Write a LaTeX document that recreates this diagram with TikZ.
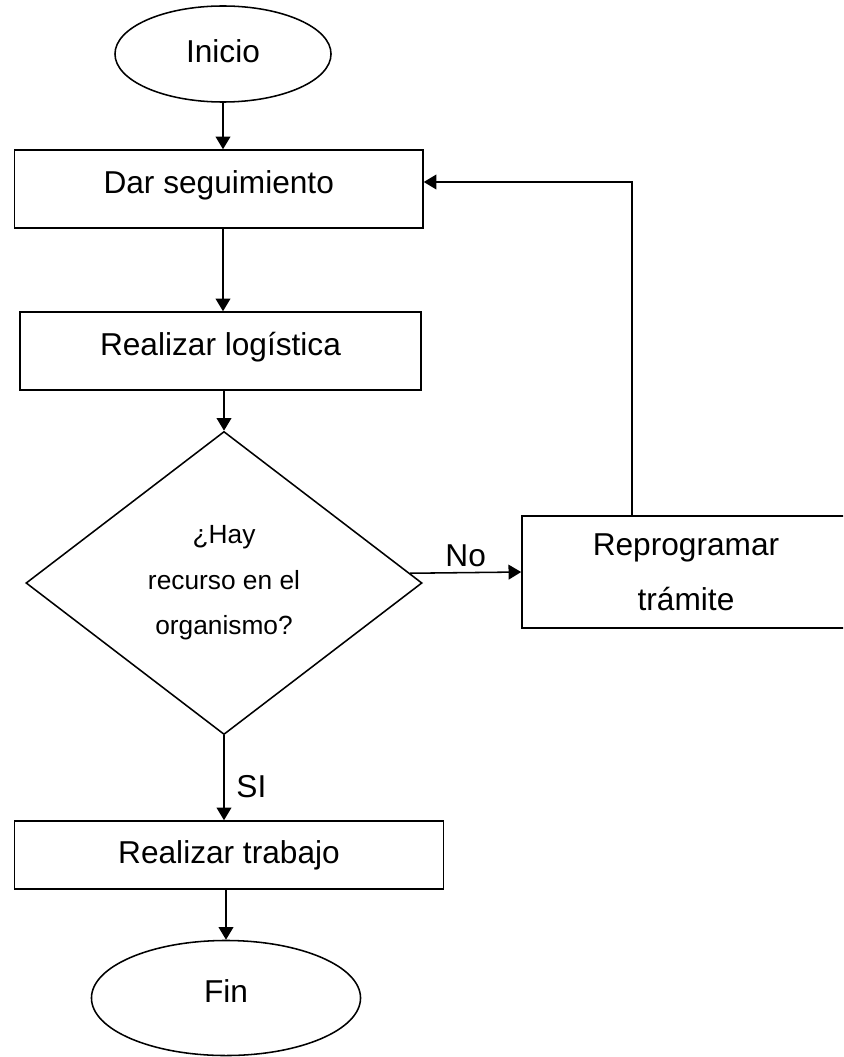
\documentclass[tikz,border=0pt]{standalone}
\usepackage{fontspec}
\setmainfont{Liberation Sans}
\usepackage{tikz}
\usetikzlibrary{arrows.meta, shapes.geometric}

\begin{document}
\begin{tikzpicture}[
  x=0.025cm, y=-0.025cm,
  blk/.style={draw, rectangle, line width=1.1pt, inner sep=0pt,
              font=\fontsize{22.5}{27}\selectfont,
              text height=16.9pt, text depth=11.2pt},
  term/.style={draw, ellipse, line width=1.1pt, inner sep=0pt,
               font=\fontsize{22.5}{27}\selectfont,
               text height=16.9pt, text depth=5pt},
  ask/.style={draw, diamond, line width=1.1pt, inner sep=0pt,
              font=\fontsize{18.7}{32.4}\selectfont, align=center},
  arr/.style={-{Triangle[length=9pt, width=10.5pt]}, line width=1.1pt},
  lbl/.style={font=\fontsize{22.5}{27}\selectfont},
]
\clip (0,0) rectangle (843,1057);

% ---- Start -----------------------------------------------------------------
\node[term] (ini) at (223, 54)
  [minimum width=5.4cm, minimum height=2.4cm] {Inicio};

% ---- Process steps ---------------------------------------------------------
\node[blk]  (seg) at (218.75, 189)
  [minimum width=10.21cm, minimum height=1.95cm] {Dar seguimiento};
\node[blk]  (log) at (220.5, 351)
  [minimum width=10.03cm, minimum height=1.95cm] {Realizar logística};
\draw[arr] (ini.south) -- (ini.south |- seg.north);
\draw[arr] (seg.south -| ini) -- (log.north -| ini);

% ---- Decision --------------------------------------------------------------
\node[ask]  (dec) at (224, 583)
  [minimum width=9.9cm, minimum height=7.575cm]
  {¿Hay\\recurso en el\\organismo?};
\draw[arr] (log.south -| dec.north) -- (dec.north);

% ---- No: reschedule --------------------------------------------------------
\node[blk]  (rep) at (686, 572)
  [minimum width=8.2cm, minimum height=2.8cm, align=center,
   text height=, text depth=, font=\fontsize{22.5}{39}\selectfont]
  {Reprogramar\\trámite};
\draw[arr] (dec.3) -- node[above, lbl]{No} (rep.west);
\draw[arr] ([xshift=-1.35cm]rep.north) |- ([yshift=0.175cm]seg.east);

% ---- Yes: do the work ------------------------------------------------------
\node[blk]  (trab) at (229, 855)
  [minimum width=10.725cm, minimum height=1.7cm, text depth=5pt]
  {Realizar trabajo};
\draw[arr] (dec.south) -- node[right=5pt, lbl, pos=0.6]{SI}
  (dec.south |- trab.north);

% ---- End -------------------------------------------------------------------
\node[term] (fin) at (226, 998)
  [minimum width=6.725cm, minimum height=2.875cm, text depth=11.2pt] {Fin};
\draw[arr] (trab.south -| fin.north) -- (fin.north);

\end{tikzpicture}
\end{document}
